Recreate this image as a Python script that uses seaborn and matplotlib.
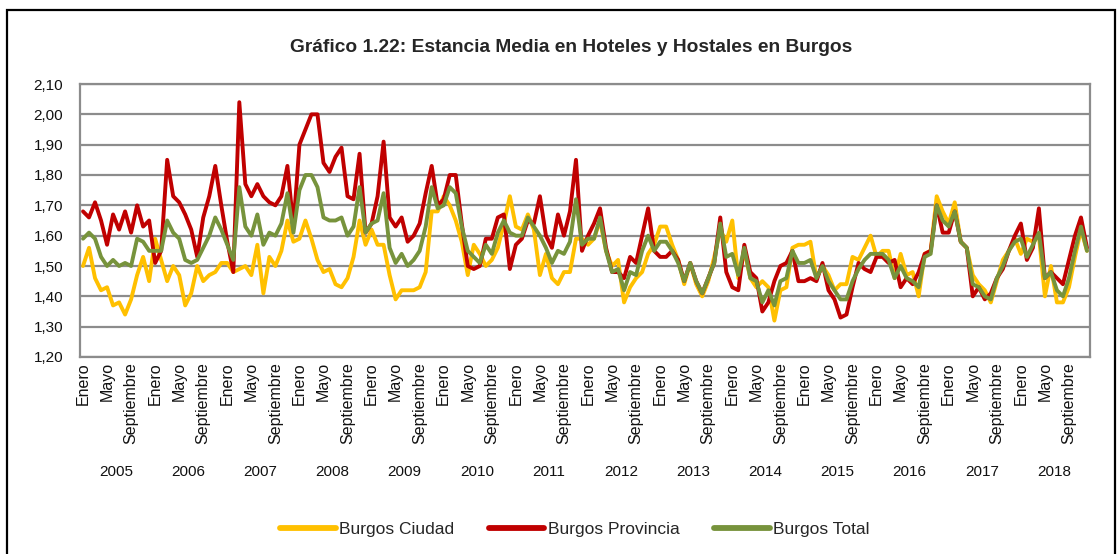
import numpy as np
import pandas as pd
import matplotlib
matplotlib.use('Agg')
import matplotlib.pyplot as plt
import seaborn as sns
from matplotlib.patches import Rectangle

# Estancia media (dias) por mes, enero 2005 - diciembre 2018
years = list(range(2005, 2019))
month_labels = {0: 'Enero', 4: 'Mayo', 8: 'Septiembre'}

burgos_ciudad = [
    1.50, 1.56, 1.46, 1.42, 1.43, 1.37, 1.38, 1.34, 1.39, 1.47, 1.53, 1.45,
    1.59, 1.52, 1.45, 1.50, 1.47, 1.37, 1.41, 1.50, 1.45, 1.47, 1.48, 1.51,
    1.51, 1.48, 1.49, 1.50, 1.47, 1.57, 1.41, 1.53, 1.50, 1.55, 1.65, 1.58,
    1.59, 1.65, 1.59, 1.52, 1.48, 1.49, 1.44, 1.43, 1.46, 1.53, 1.65, 1.57,
    1.62, 1.57, 1.57, 1.47, 1.39, 1.42, 1.42, 1.42, 1.43, 1.48, 1.68, 1.68,
    1.73, 1.70, 1.65, 1.58, 1.47, 1.57, 1.54, 1.50, 1.52, 1.56, 1.64, 1.73,
    1.63, 1.62, 1.67, 1.62, 1.47, 1.54, 1.46, 1.44, 1.48, 1.48, 1.59, 1.59,
    1.57, 1.59, 1.65, 1.55, 1.50, 1.52, 1.38, 1.43, 1.46, 1.48, 1.54, 1.57,
    1.63, 1.63, 1.57, 1.52, 1.44, 1.51, 1.44, 1.40, 1.45, 1.53, 1.62, 1.58,
    1.65, 1.46, 1.55, 1.46, 1.43, 1.45, 1.43, 1.32, 1.42, 1.43, 1.56, 1.57,
    1.57, 1.58, 1.46, 1.50, 1.47, 1.42, 1.44, 1.44, 1.53, 1.52, 1.56, 1.60,
    1.53, 1.55, 1.55, 1.46, 1.54, 1.47, 1.48, 1.40, 1.54, 1.55, 1.73, 1.68,
    1.64, 1.71, 1.58, 1.56, 1.47, 1.44, 1.42, 1.38, 1.45, 1.52, 1.55, 1.59,
    1.54, 1.59, 1.58, 1.60, 1.40, 1.50, 1.38, 1.38, 1.43, 1.53, 1.62, 1.55,
]

burgos_provincia = [
    1.68, 1.66, 1.71, 1.65, 1.57, 1.67, 1.62, 1.68, 1.61, 1.70, 1.63, 1.65,
    1.51, 1.55, 1.85, 1.73, 1.71, 1.67, 1.62, 1.53, 1.66, 1.73, 1.83, 1.70,
    1.58, 1.48, 2.04, 1.77, 1.73, 1.77, 1.73, 1.71, 1.70, 1.73, 1.83, 1.63,
    1.90, 1.95, 2.00, 2.00, 1.84, 1.81, 1.86, 1.89, 1.73, 1.72, 1.87, 1.61,
    1.64, 1.73, 1.91, 1.66, 1.63, 1.66, 1.58, 1.60, 1.64, 1.74, 1.83, 1.70,
    1.72, 1.80, 1.80, 1.64, 1.50, 1.49, 1.50, 1.59, 1.59, 1.66, 1.67, 1.49,
    1.57, 1.59, 1.65, 1.64, 1.73, 1.60, 1.56, 1.67, 1.60, 1.68, 1.85, 1.55,
    1.60, 1.64, 1.69, 1.56, 1.48, 1.48, 1.46, 1.53, 1.51, 1.60, 1.69, 1.55,
    1.53, 1.53, 1.55, 1.52, 1.45, 1.51, 1.45, 1.41, 1.46, 1.51, 1.66, 1.48,
    1.43, 1.42, 1.57, 1.48, 1.46, 1.35, 1.38, 1.45, 1.50, 1.51, 1.55, 1.45,
    1.45, 1.46, 1.45, 1.51, 1.42, 1.39, 1.33, 1.34, 1.43, 1.51, 1.49, 1.48,
    1.53, 1.53, 1.51, 1.52, 1.43, 1.46, 1.44, 1.48, 1.54, 1.55, 1.70, 1.61,
    1.61, 1.68, 1.58, 1.56, 1.40, 1.43, 1.39, 1.41, 1.46, 1.49, 1.55, 1.60,
    1.64, 1.52, 1.56, 1.69, 1.46, 1.48, 1.46, 1.44, 1.52, 1.60, 1.66, 1.56,
]

burgos_total = [
    1.59, 1.61, 1.59, 1.53, 1.50, 1.52, 1.50, 1.51, 1.50, 1.59, 1.58, 1.55,
    1.55, 1.55, 1.65, 1.61, 1.59, 1.52, 1.51, 1.52, 1.56, 1.60, 1.66, 1.62,
    1.57, 1.52, 1.76, 1.63, 1.60, 1.67, 1.57, 1.61, 1.60, 1.64, 1.74, 1.61,
    1.75, 1.80, 1.80, 1.76, 1.66, 1.65, 1.65, 1.66, 1.60, 1.63, 1.76, 1.61,
    1.64, 1.65, 1.74, 1.56, 1.51, 1.54, 1.50, 1.52, 1.55, 1.63, 1.76, 1.69,
    1.70, 1.76, 1.74, 1.63, 1.55, 1.53, 1.51, 1.57, 1.54, 1.61, 1.65, 1.61,
    1.60, 1.60, 1.66, 1.63, 1.60, 1.56, 1.51, 1.55, 1.54, 1.58, 1.72, 1.57,
    1.59, 1.59, 1.66, 1.55, 1.48, 1.49, 1.42, 1.48, 1.47, 1.55, 1.60, 1.55,
    1.58, 1.58, 1.55, 1.51, 1.45, 1.51, 1.45, 1.41, 1.46, 1.51, 1.64, 1.53,
    1.54, 1.47, 1.56, 1.46, 1.45, 1.38, 1.42, 1.37, 1.45, 1.46, 1.55, 1.51,
    1.51, 1.52, 1.46, 1.50, 1.45, 1.42, 1.39, 1.39, 1.45, 1.49, 1.52, 1.54,
    1.54, 1.54, 1.52, 1.46, 1.50, 1.46, 1.45, 1.43, 1.53, 1.54, 1.70, 1.65,
    1.63, 1.68, 1.58, 1.56, 1.44, 1.43, 1.40, 1.39, 1.46, 1.50, 1.55, 1.58,
    1.59, 1.53, 1.57, 1.61, 1.46, 1.48, 1.42, 1.40, 1.46, 1.55, 1.63, 1.55,
]

series = {
    'Burgos Ciudad': burgos_ciudad,
    'Burgos Provincia': burgos_provincia,
    'Burgos Total': burgos_total,
}
colors = {'Burgos Ciudad': '#FFC000', 'Burgos Provincia': '#C00000', 'Burgos Total': '#77933C'}

n = len(years) * 12
frames = []
for name, vals in series.items():
    frames.append(pd.DataFrame({'idx': np.arange(n), 'valor': vals, 'serie': name}))
df = pd.concat(frames, ignore_index=True)

sns.set_style('white')
plt.rcParams['font.family'] = ['Liberation Sans', 'DejaVu Sans']

fig = plt.figure(figsize=(11.19, 5.54), dpi=100)
ax = fig.add_axes([80 / 1119, 1 - 357 / 554, 1010 / 1119, 273 / 554])

sns.lineplot(data=df, x='idx', y='valor', hue='serie', palette=colors,
             linewidth=2.8, ax=ax, legend=False)

grid_col = '#8c8c8c'
ax.set_xlim(-0.5, n - 0.5)
ax.set_ylim(1.2, 2.1)
yt = np.round(np.arange(1.2, 2.1001, 0.1), 2)
ax.set_yticks(yt)
ax.set_yticklabels([f'{v:.2f}'.replace('.', ',') for v in yt], fontsize=11, color='#111111')
ax.yaxis.grid(True, color=grid_col, linewidth=1.6)
ax.set_axisbelow(True)
ax.tick_params(axis='y', length=0, pad=12)
for s in ax.spines.values():
    s.set_color(grid_col)
    s.set_linewidth(1.6)

# separadores de anos (ticks largos) y ticks mensuales pequenos
ax.set_xticks(np.arange(0, n + 1, 12) - 0.5)
ax.set_xticklabels([])
ax.tick_params(axis='x', which='major', direction='out', length=91, width=1.6, color=grid_col)
ax.set_xticks(np.arange(0, n + 1) - 0.5, minor=True)
ax.tick_params(axis='x', which='minor', direction='in', length=3, width=1, color=grid_col)
ax.set_xlabel('')
ax.set_ylabel('')

trans = ax.get_xaxis_transform()
for k, yr in enumerate(years):
    for m, lab in month_labels.items():
        ax.text(k * 12 + m, -0.018, lab, transform=trans, rotation=90,
                ha='center', va='top', fontsize=11.5, color='#111111')
    ax.text(k * 12 + 5.5, -0.42, str(yr), transform=trans,
            ha='center', va='center', fontsize=11, color='#111111')

fig.text(571 / 1119, 1 - 48 / 554, 'Gráfico 1.22: Estancia Media en Hoteles y Hostales en Burgos',
         ha='center', va='center', fontsize=13.8, fontweight='bold')

handles = [plt.Line2D([], [], color=colors[k], linewidth=4.2, solid_capstyle='round') for k in series]
fig.legend(handles, list(series.keys()), loc='center', bbox_to_anchor=(575 / 1119, 1 - 529 / 554),
           ncol=3, frameon=False, fontsize=12.5, handlelength=3.2, handletextpad=0.2,
           columnspacing=2.0)

fig.add_artist(Rectangle((7 / 1119, -0.05), 1108 / 1119, 1.05 - 10 / 554, transform=fig.transFigure,
                         fill=False, edgecolor='black', linewidth=1.6))

fig.savefig('out.png', dpi=100)
